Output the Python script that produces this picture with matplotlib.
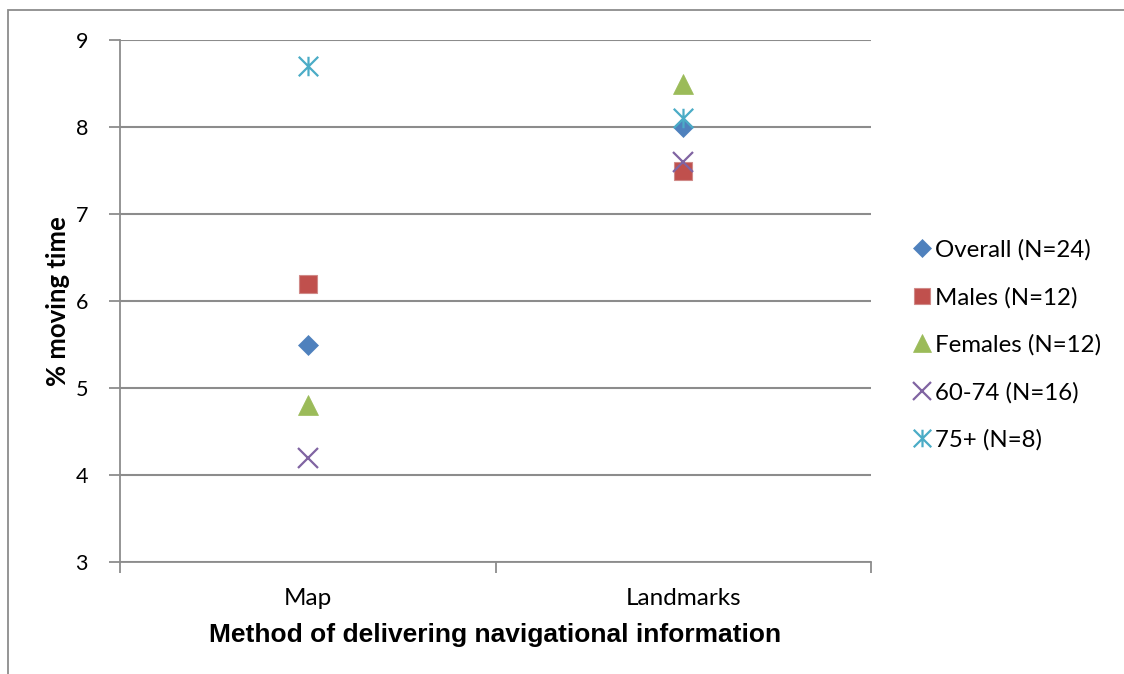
import matplotlib
matplotlib.use("Agg")
import matplotlib.pyplot as plt
from matplotlib.path import Path
from matplotlib.patches import Rectangle

# Data
categories = ["Map", "Landmarks"]
series_names = ["Overall (N=24)", "Males (N=12)", "Females (N=12)", "60-74 (N=16)", "75+ (N=8)"]
overall = [5.5, 8.0]
males = [6.2, 7.5]
females = [4.8, 8.5]
age_60_74 = [4.2, 7.6]
age_75_plus = [8.7, 8.1]
y_ticks = [3, 4, 5, 6, 7, 8, 9]

# Asterisk marker: vertical stroke plus an X
asterisk = Path(
    [(0, -1), (0, 1), (-1, -1), (1, 1), (-1, 1), (1, -1)],
    [Path.MOVETO, Path.LINETO, Path.MOVETO, Path.LINETO, Path.MOVETO, Path.LINETO],
)

styles = [
    dict(marker="D", ms=10.5, color="#4F81BD", mec="#4F81BD", mew=0.5),
    dict(marker="s", ms=13, color="#C0504D", mec="#D08A88", mew=0.8),
    dict(marker="^", ms=14, color="#9BBB59", mec="#9BBB59", mew=0.5),
    dict(marker="x", ms=14, color="#8064A2", mec="#8064A2", mew=1.6),
    dict(marker=asterisk, ms=14, color="#4BACC6", mec="#4BACC6", mew=1.6),
]
values = [overall, males, females, age_60_74, age_75_plus]

BODY = "Lato"

W, H = 1124, 674
fig = plt.figure(figsize=(W / 100, H / 100), dpi=100)
fig.patch.set_facecolor("white")

# Outer chart border
fig.add_artist(Rectangle((8 / W, -0.01), 1.02, (H - 10) / H + 0.01,
                         transform=fig.transFigure, fill=False,
                         edgecolor="#8C8C8C", linewidth=1.3))

ax = fig.add_axes([120 / W, (H - 562) / H, 751 / W, 522 / H])

xpos = [0.5, 1.5]
for name, vals, st in zip(series_names, values, styles):
    ax.plot(xpos, vals, linestyle="none", label=name, zorder=3, **st)

ax.set_xlim(0, 2)
ax.set_ylim(3, 9)
ax.set_yticks(y_ticks)
ax.set_yticklabels([str(t) for t in y_ticks], fontfamily=BODY, fontsize=15.5)
ax.set_xticks([0, 1, 2])
ax.set_xticklabels([])
ax.set_xticks(xpos, minor=True)
ax.set_xticklabels(categories, minor=True, fontfamily=BODY, fontsize=17.5)
ax.tick_params(axis="x", which="minor", length=0, pad=19)
ax.tick_params(axis="x", which="major", length=8, width=1.3, color="#8C8C8C", direction="out")
ax.tick_params(axis="y", length=8, width=1.3, color="#8C8C8C", direction="out", pad=15)

ax.yaxis.grid(True, color="#8C8C8C", linewidth=1.5, zorder=1)
ax.set_axisbelow(True)
for side in ["top", "right"]:
    ax.spines[side].set_visible(False)
for side in ["left", "bottom"]:
    ax.spines[side].set_color("#8C8C8C")
    ax.spines[side].set_linewidth(1.3)

ax.set_ylabel("% moving time", fontfamily=BODY, fontweight="bold", fontsize=18.5)
ax.yaxis.set_label_coords(-0.0666, 0.5)
ax.set_xlabel("Method of delivering navigational information",
              fontfamily="Liberation Sans", fontweight="bold", fontsize=19, labelpad=10)

leg = fig.legend(*ax.get_legend_handles_labels(), loc="center left",
                 bbox_to_anchor=(900 / W, (H - 345) / H), frameon=False,
                 prop=dict(family=BODY, size=17.3), handlelength=0.85, borderpad=0,
                 handletextpad=0.12, labelspacing=1.08, markerscale=0.9)

fig.savefig("out.png", dpi=100, facecolor="white")
